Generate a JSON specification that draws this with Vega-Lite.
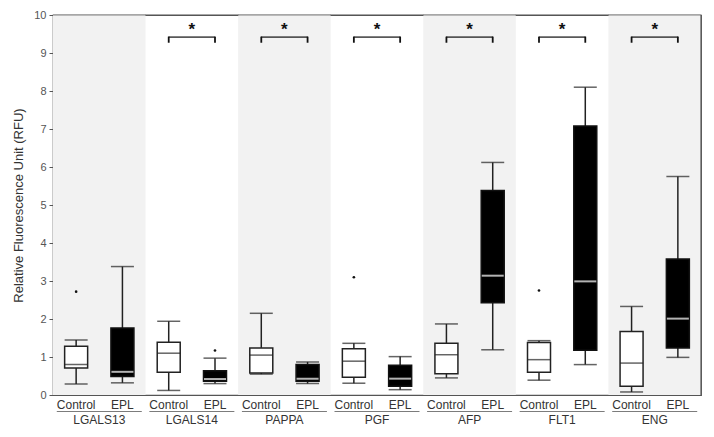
{
  "$schema": "https://vega.github.io/schema/vega-lite/v6.json",
  "width": 648,
  "height": 380,
  "autosize": "none",
  "padding": {"left": 53, "top": 15, "right": 13, "bottom": 42},
  "background": "white",
  "config": {
    "font": "Liberation Sans",
    "view": {"stroke": "#555", "strokeWidth": 1.2},
    "axis": {"grid": false}
  },
  "data": {
    "values": [
      {"gene": "LGALS13", "group": "Control", "lo": 0.29, "q1": 0.71, "med": 0.80, "q3": 1.28, "hi": 1.45},
      {"gene": "LGALS13", "group": "EPL", "lo": 0.32, "q1": 0.49, "med": 0.61, "q3": 1.76, "hi": 3.38},
      {"gene": "LGALS14", "group": "Control", "lo": 0.12, "q1": 0.60, "med": 1.10, "q3": 1.39, "hi": 1.94},
      {"gene": "LGALS14", "group": "EPL", "lo": 0.30, "q1": 0.36, "med": 0.42, "q3": 0.64, "hi": 0.97},
      {"gene": "PAPPA", "group": "Control", "lo": 0.55, "q1": 0.58, "med": 1.05, "q3": 1.24, "hi": 2.15},
      {"gene": "PAPPA", "group": "EPL", "lo": 0.30, "q1": 0.36, "med": 0.43, "q3": 0.80, "hi": 0.87},
      {"gene": "PGF", "group": "Control", "lo": 0.31, "q1": 0.47, "med": 0.89, "q3": 1.22, "hi": 1.36},
      {"gene": "PGF", "group": "EPL", "lo": 0.14, "q1": 0.23, "med": 0.43, "q3": 0.78, "hi": 1.01},
      {"gene": "AFP", "group": "Control", "lo": 0.45, "q1": 0.56, "med": 1.06, "q3": 1.36, "hi": 1.87},
      {"gene": "AFP", "group": "EPL", "lo": 1.19, "q1": 2.43, "med": 3.14, "q3": 5.38, "hi": 6.12},
      {"gene": "FLT1", "group": "Control", "lo": 0.39, "q1": 0.60, "med": 0.93, "q3": 1.38, "hi": 1.43},
      {"gene": "FLT1", "group": "EPL", "lo": 0.80, "q1": 1.18, "med": 2.99, "q3": 7.08, "hi": 8.10},
      {"gene": "ENG", "group": "Control", "lo": 0.08, "q1": 0.23, "med": 0.84, "q3": 1.67, "hi": 2.33},
      {"gene": "ENG", "group": "EPL", "lo": 0.99, "q1": 1.24, "med": 2.01, "q3": 3.58, "hi": 5.75}
    ]
  },
  "encoding": {
    "x": {
      "field": "gene", "type": "nominal",
      "scale": {"domain": ["LGALS13", "LGALS14", "PAPPA", "PGF", "AFP", "FLT1", "ENG"], "paddingInner": 0, "paddingOuter": 0},
      "axis": {"title": null, "ticks": false, "domain": true, "domainColor": "#555", "labelPadding": 19, "labelFontSize": 12, "labelColor": "#333", "labelAngle": 0}
    },
    "y": {
      "field": "lo", "type": "quantitative",
      "scale": {"domain": [0, 10], "nice": false},
      "axis": {"values": [0,1,2,3,4,5,6,7,8,9,10], "labelOverlap": false, "title": "Relative Fluorescence Unit (RFU)", "titleFontSize": 13, "titleFontWeight": "normal", "titleColor": "#333", "titlePadding": 8, "labelFontSize": 11, "labelColor": "#555", "tickSize": 4, "tickColor": "#555", "domainColor": "#555", "labelPadding": 3}
    }
  },
  "layer": [
    {
      "transform": [{"filter": "datum.group == 'Control' && indexof(['LGALS13','PAPPA','AFP','ENG'], datum.gene) >= 0"}],
      "mark": {"type": "rect", "color": "#f2f2f2"},
      "encoding": {
        "y": {"datum": 0, "type": "quantitative"},
        "y2": {"datum": 10}
      }
    },
    {
      "transform": [{"filter": "datum.group == 'Control'"}],
      "mark": {"type": "tick", "color": "#555", "size": 93, "thickness": 1.2},
      "encoding": {
        "y": {"datum": 10, "type": "quantitative"}
      }
    },
    {
      "transform": [{"filter": "datum.group == 'Control' && datum.gene == 'ENG'"}],
      "mark": {"type": "rule", "color": "#555", "strokeWidth": 1.2},
      "encoding": {
        "x": {"field": "gene", "type": "nominal", "bandPosition": 1},
        "y": {"datum": 0, "type": "quantitative"},
        "y2": {"datum": 10}
      }
    },
    {
      "mark": {"type": "rule", "color": "#222", "strokeWidth": 1.5},
      "encoding": {
        "xOffset": {"field": "group", "scale": {"domain": ["Control", "EPL"], "paddingInner": 0, "paddingOuter": 0}},
        "y2": {"field": "hi"}
      }
    },
    {
      "mark": {"type": "tick", "color": "#222", "size": 23, "thickness": 1.5},
      "encoding": {
        "xOffset": {"field": "group", "scale": {"domain": ["Control", "EPL"], "paddingInner": 0, "paddingOuter": 0}}
      }
    },
    {
      "mark": {"type": "tick", "color": "#222", "size": 23, "thickness": 1.5},
      "encoding": {
        "xOffset": {"field": "group", "scale": {"domain": ["Control", "EPL"], "paddingInner": 0, "paddingOuter": 0}},
        "y": {"field": "hi", "type": "quantitative"}
      }
    },
    {
      "transform": [{"filter": "datum.group == 'Control'"}],
      "mark": {"type": "bar", "fill": "white", "stroke": "#222", "strokeWidth": 1.5, "size": 23},
      "encoding": {
        "xOffset": {"field": "group", "scale": {"domain": ["Control", "EPL"], "paddingInner": 0, "paddingOuter": 0}},
        "y": {"field": "q1", "type": "quantitative"},
        "y2": {"field": "q3"}
      }
    },
    {
      "transform": [{"filter": "datum.group == 'EPL'"}],
      "mark": {"type": "bar", "fill": "black", "stroke": "#111", "strokeWidth": 1.5, "size": 23},
      "encoding": {
        "xOffset": {"field": "group", "scale": {"domain": ["Control", "EPL"], "paddingInner": 0, "paddingOuter": 0}},
        "y": {"field": "q1", "type": "quantitative"},
        "y2": {"field": "q3"}
      }
    },
    {
      "transform": [{"filter": "datum.group == 'Control'"}],
      "mark": {"type": "tick", "color": "#222", "size": 23, "thickness": 1.5},
      "encoding": {
        "xOffset": {"field": "group", "scale": {"domain": ["Control", "EPL"], "paddingInner": 0, "paddingOuter": 0}},
        "y": {"field": "med", "type": "quantitative"}
      }
    },
    {
      "transform": [{"filter": "datum.group == 'EPL'"}],
      "mark": {"type": "tick", "color": "white", "size": 22, "thickness": 2},
      "encoding": {
        "xOffset": {"field": "group", "scale": {"domain": ["Control", "EPL"], "paddingInner": 0, "paddingOuter": 0}},
        "y": {"field": "med", "type": "quantitative"}
      }
    },
    {
      "data": {"values": [
        {"gene": "LGALS13", "group": "Control", "value": 2.72},
        {"gene": "LGALS14", "group": "EPL", "value": 1.17},
        {"gene": "PGF", "group": "Control", "value": 3.10},
        {"gene": "FLT1", "group": "Control", "value": 2.75}
      ]},
      "mark": {"type": "point", "filled": true, "color": "#111", "size": 7, "opacity": 1},
      "encoding": {
        "xOffset": {"field": "group", "scale": {"domain": ["Control", "EPL"], "paddingInner": 0, "paddingOuter": 0}},
        "y": {"field": "value", "type": "quantitative"}
      }
    },
    {
      "transform": [{"filter": "datum.gene != 'LGALS13'"}],
      "mark": {"type": "rule", "color": "#111", "strokeWidth": 1.8},
      "encoding": {
        "xOffset": {"field": "group", "scale": {"domain": ["Control", "EPL"], "paddingInner": 0, "paddingOuter": 0}},
        "y": {"datum": 9.27, "type": "quantitative"},
        "y2": {"datum": 9.43}
      }
    },
    {
      "transform": [{"filter": "datum.gene != 'LGALS13' && datum.group == 'Control'"}],
      "mark": {"type": "tick", "color": "#111", "size": 47, "thickness": 1.8},
      "encoding": {
        "y": {"datum": 9.42, "type": "quantitative"}
      }
    },
    {
      "transform": [{"filter": "datum.gene != 'LGALS13' && datum.group == 'Control'"}],
      "mark": {"type": "text", "text": "*", "fontSize": 17, "fontWeight": "bold", "color": "#111", "baseline": "middle", "dy": 3},
      "encoding": {
        "y": {"datum": 9.68, "type": "quantitative"}
      }
    },
    {
      "mark": {"type": "text", "fontSize": 12, "color": "#333", "baseline": "middle", "dy": 10},
      "encoding": {
        "xOffset": {"field": "group", "scale": {"domain": ["Control", "EPL"], "paddingInner": 0, "paddingOuter": 0}},
        "y": {"datum": 0, "type": "quantitative"},
        "text": {"field": "group"}
      }
    },
    {
      "transform": [{"filter": "datum.group == 'Control'"}],
      "mark": {"type": "tick", "color": "#444", "size": 85, "thickness": 1, "yOffset": 16.5},
      "encoding": {
        "y": {"datum": 0, "type": "quantitative"}
      }
    }
  ]
}
